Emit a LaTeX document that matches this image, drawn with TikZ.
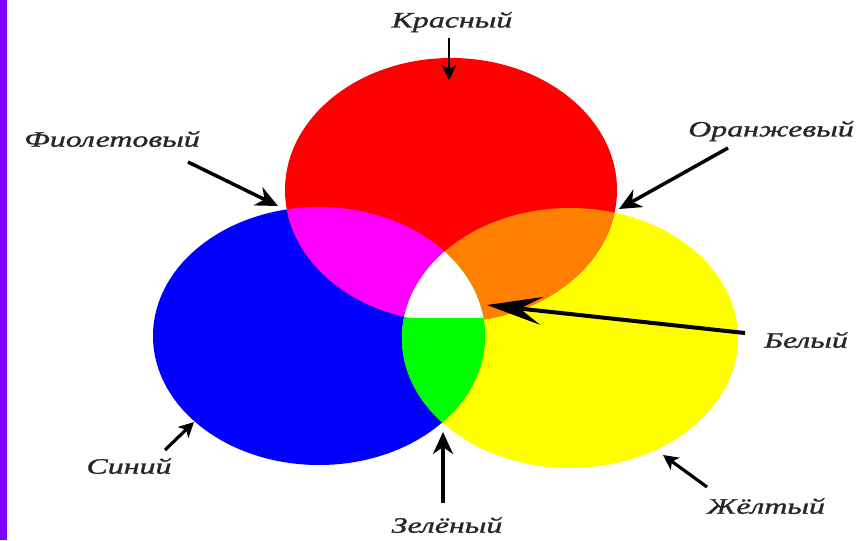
\documentclass[tikz,border=0pt]{standalone}
\usepackage{fontspec}
\setmainfont{Liberation Serif}
\newfontfamily\labfont[FakeStretch=1.45,FakeBold=1.2]{Liberation Serif}
\usetikzlibrary{arrows.meta}
\definecolor{violetbar}{RGB}{128,0,255}
\definecolor{orangemix}{RGB}{255,128,0}
\definecolor{pureblue}{RGB}{0,0,255}
\definecolor{purered}{RGB}{255,0,0}
\definecolor{pureyellow}{RGB}{255,255,0}
\definecolor{puremagenta}{RGB}{255,0,255}
\definecolor{puregreen}{RGB}{0,255,0}
\begin{document}
\begin{tikzpicture}[x=1pt,y=-1pt,
  lab/.style={font=\labfont\itshape\fontsize{22}{24}\selectfont, text=black!85, inner sep=0pt},
  ptr/.style={line width=3.5pt, -{Stealth[length=22pt,width=20pt,inset=7pt]}},
  ptrsmall/.style={line width=3.2pt, -{Stealth[length=15pt,width=15pt,inset=4pt]}},
  ptrlong/.style={line width=4pt, -{Stealth[length=55pt,width=28pt,inset=22pt]}}]
\useasboundingbox (0,0) rectangle (866,540);
\fill[white] (0,0) rectangle (866,540);
\fill[violetbar] (0,0) rectangle (7,540);
\def\ellR{(451,190) ellipse [x radius=166pt, y radius=132pt]}
\def\ellB{(319,336) ellipse [x radius=166pt, y radius=129pt]}
\def\ellY{(570,338) ellipse [x radius=168pt, y radius=130pt]}
% base circles
\fill[pureblue] \ellB;
\fill[pureyellow] \ellY;
\fill[purered] \ellR;
% pairwise mixes
\begin{scope}\clip \ellR; \fill[puremagenta] \ellB; \end{scope}
\begin{scope}\clip \ellR; \fill[orangemix] \ellY; \end{scope}
\begin{scope}\clip \ellB; \fill[puregreen] \ellY; \end{scope}
% triple
\begin{scope}\clip \ellR; \clip \ellB; \fill[white] \ellY; \end{scope}
\begin{scope}\clip \ellB; \clip \ellY; \fill[puregreen] (0,318) rectangle (866,540); \end{scope}
% labels
\node[lab] (kr) at (452,22) {Красный};
\node[lab] (fi) at (112,139) {Фиолетовый};
\node[lab] (or) at (771,131) {Оранжевый};
\node[lab] (be) at (806,340) {Белый};
\node[lab] (zh) at (766,506) {Жёлтый};
\node[lab] (si) at (129,466) {Синий};
\node[lab] (ze) at (447,525) {Зелёный};
% arrow ends
\coordinate (krS) at (449,38);  \coordinate (krT) at (449,80);
\coordinate (fiS) at (188,162); \coordinate (fiT) at (278,206);
\coordinate (orS) at (728,148); \coordinate (orT) at (619,209);
\coordinate (beS) at (745,333); \coordinate (beT) at (487,305);
\coordinate (zhS) at (707,487); \coordinate (zhT) at (663,455);
\coordinate (siS) at (165,450); \coordinate (siT) at (194,422);
\coordinate (zeS) at (443,503); \coordinate (zeT) at (443,432);
\draw[ptrsmall, line width=2.5pt] (krS) -- (krT);
\draw[ptr] (fiS) -- (fiT);
\draw[ptr] (orS) -- (orT);
\draw[ptrlong] (beS) -- (beT);
\draw[ptrsmall] (zhS) -- (zhT);
\draw[ptrsmall] (siS) -- (siT);
\draw[ptr] (zeS) -- (zeT);
\end{tikzpicture}
\end{document}
